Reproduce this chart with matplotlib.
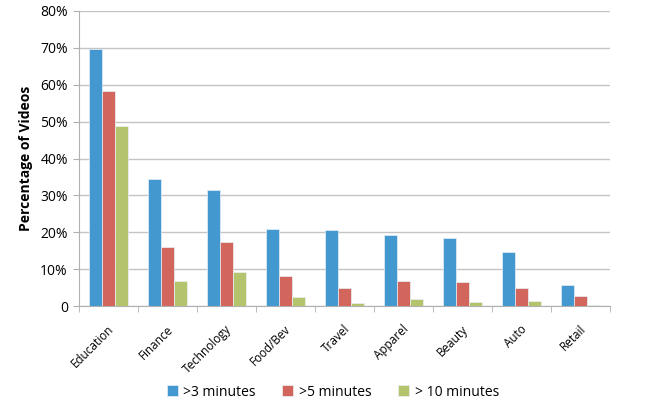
import numpy as np
import matplotlib.pyplot as plt
from matplotlib.ticker import FuncFormatter

categories = ['Education', 'Finance', 'Technology', 'Food/Bev', 'Travel',
              'Apparel', 'Beauty', 'Auto', 'Retail']
over_3 = [69.7, 34.4, 31.5, 20.9, 20.5, 19.3, 18.5, 14.6, 5.8]
over_5 = [58.3, 16.0, 17.4, 8.1, 5.0, 6.9, 6.4, 5.0, 2.6]
over_10 = [48.9, 6.7, 9.2, 2.4, 0.8, 2.0, 1.1, 1.3, 0.4]
series_labels = ['>3 minutes', '>5 minutes', '> 10 minutes']
colors = ['#4398CF', '#D2665C', '#B3C46D']

plt.rcParams['font.family'] = ['Open Sans', 'DejaVu Sans']

fig = plt.figure(figsize=(6.5, 4), dpi=100)
ax = fig.add_axes([0.1215, 0.235, 0.817, 0.7375])

x = np.arange(len(categories))
w = 0.22
for i, (vals, lab, c) in enumerate(zip([over_3, over_5, over_10], series_labels, colors)):
    ax.bar(x + (i - 1) * w, vals, w, color=c, label=lab,
           edgecolor='#E8F0F8', linewidth=0.5, zorder=3)

ax.set_xlim(-0.5, len(categories) - 0.5)
ax.set_ylim(0, 80)
ax.set_yticks(np.arange(0, 81, 10))
ax.yaxis.set_major_formatter(FuncFormatter(lambda v, p: '0' if v == 0 else f'{v:.0f}%'))
ax.grid(axis='y', color='#C4C4C4', linewidth=1, zorder=0)

# labels sit a touch right of the group centre
ax.set_xticks(x - 0.02)
ax.set_xticklabels(categories, rotation=45, ha='right', rotation_mode='anchor', fontsize=8.5)
ax.set_xticks(np.arange(-0.5, len(categories)), minor=True)
ax.tick_params(axis='x', which='major', length=0, pad=12)
ax.tick_params(axis='x', which='minor', length=4, color='#B0B0B0')
ax.tick_params(axis='y', length=4, color='#B0B0B0', labelsize=10, pad=4)

for s in ['top', 'right']:
    ax.spines[s].set_visible(False)
for s in ['left', 'bottom']:
    ax.spines[s].set_color('#B0B0B0')

ax.set_ylabel('Percentage of Videos', fontsize=10, fontweight='bold', labelpad=5)

fig.legend(loc='lower center', bbox_to_anchor=(0.512, -0.03), ncol=3, frameon=False,
           fontsize=10, handlelength=0.8, handleheight=0.8, columnspacing=1.9,
           handletextpad=0.4)

fig.savefig('out.png', dpi=100)
